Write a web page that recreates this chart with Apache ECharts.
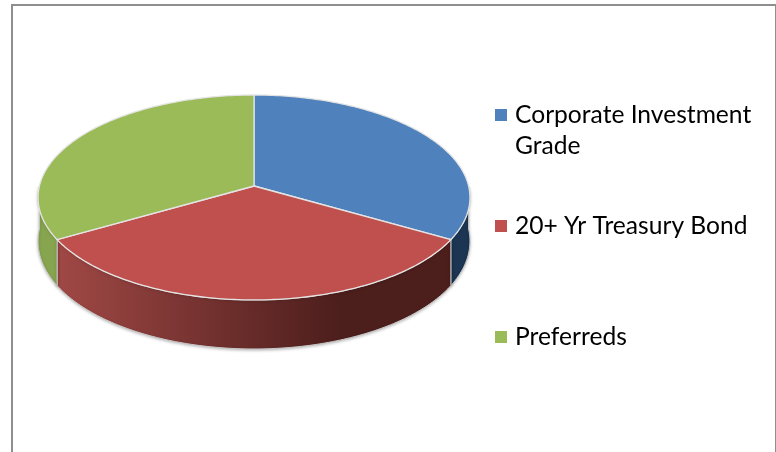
<!DOCTYPE html>
<html><head><meta charset="utf-8">
<style>html,body{margin:0;padding:0;background:#fff}#c{width:776px;height:452px}</style>
<script src="https://cdn.jsdelivr.net/npm/echarts@6/dist/echarts.min.js"></script>
</head><body><div id="c"></div>
<script>
const categories = ['Corporate Investment Grade', '20+ Yr Treasury Bond', 'Preferreds'];
const legendLines = ['Corporate Investment', '20+ Yr Treasury Bond', 'Preferreds'];
const sliceValues = [33.33, 33.33, 33.33];
const topColors = ['#4f81bd', '#c0504d', '#9bbb59'];

const total = sliceValues.reduce((a, b) => a + b, 0);
// perspective projection of the tilted disc
const P = {cx: 254, cy: 186, a: 101.2, b: 214.6, k: -0.112};
function proj(t, r) {
  const x = Math.sin(t) * r, y = -Math.cos(t) * r, d = 1 + P.k * y;
  return [P.cx + P.b * x / d, P.cy + P.a * y / d];
}
function projLow(t) {
  const p = proj(t, 1), y = -Math.cos(t);
  return [p[0], p[1] + 43 + 6 * y];
}
const wallFill = [
  '#1b3553',
  new echarts.graphic.LinearGradient(57, 0, 451, 0, [
    {offset: 0, color: '#a04845'},
    {offset: 0.72, color: '#4c1e1c'},
    {offset: 1, color: '#4c1e1c'}
  ], true),
  '#87a44e'
];
function sliceRange(i) {
  let s = 0;
  for (let j = 0; j < i; j++) s += sliceValues[j];
  return [s / total * 2 * Math.PI, (s + sliceValues[i]) / total * 2 * Math.PI];
}
function arc(t0, t1, fn) {
  const pts = [], n = Math.max(2, Math.ceil((t1 - t0) * 60));
  for (let i = 0; i <= n; i++) pts.push(fn(t0 + (t1 - t0) * i / n));
  return pts;
}
function renderSlice(i) {
  return function () {
    const [t0, t1] = sliceRange(i);
    const children = [];
    // visible outer wall: only the front half of the rim
    const w0 = Math.max(t0, Math.PI / 2), w1 = Math.min(t1, 3 * Math.PI / 2);
    if (w1 > w0) {
      const top = arc(w0, w1, t => proj(t, 1));
      const low = arc(w0, w1, projLow).reverse();
      children.push({
        type: 'polygon', z2: 1,
        shape: {points: top.concat(low)},
        style: {fill: wallFill[i], stroke: '#c9c9c9', lineWidth: 1,
                shadowBlur: 3, shadowColor: 'rgba(0,0,0,0.25)', shadowOffsetY: 1}
      });
    }
    const sector = [[P.cx, P.cy]].concat(arc(t0, t1, t => proj(t, 1)));
    children.push({
      type: 'polygon', z2: 2,
      shape: {points: sector},
      style: {fill: topColors[i], stroke: '#e4e4e4', lineWidth: 1.3}
    });
    return {type: 'group', children};
  };
}
const chart = echarts.init(document.getElementById('c'), null, {renderer: 'canvas'});
chart.setOption({
  animation: false,
  backgroundColor: '#fff',
  legend: {
    orient: 'vertical', left: 495, top: 100, padding: 0, itemWidth: 12, itemHeight: 12, itemGap: 81,
    icon: 'rect',
    data: categories,
    formatter: name => legendLines[categories.indexOf(name)],
    textStyle: {fontFamily: 'Lato', fontSize: 24.6, lineHeight: 30, color: '#000', padding: [0, 0, 0, 3]}
  },
  graphic: [
    {type: 'rect', silent: true, z: -1,
     shape: {x: 12, y: 5, width: 764, height: 470},
     style: {fill: 'none', stroke: '#8e8e8e', lineWidth: 2}},
    {type: 'text', left: 515, top: 134, silent: true,
     style: {text: 'Grade', font: '24.6px Lato', fill: '#000'}}
  ],
  series: categories.map((name, i) => ({
    type: 'custom', name, coordinateSystem: 'none',
    itemStyle: {color: topColors[i]},
    data: [sliceValues[i]],
    renderItem: renderSlice(i)
  }))
});
</script></body></html>
